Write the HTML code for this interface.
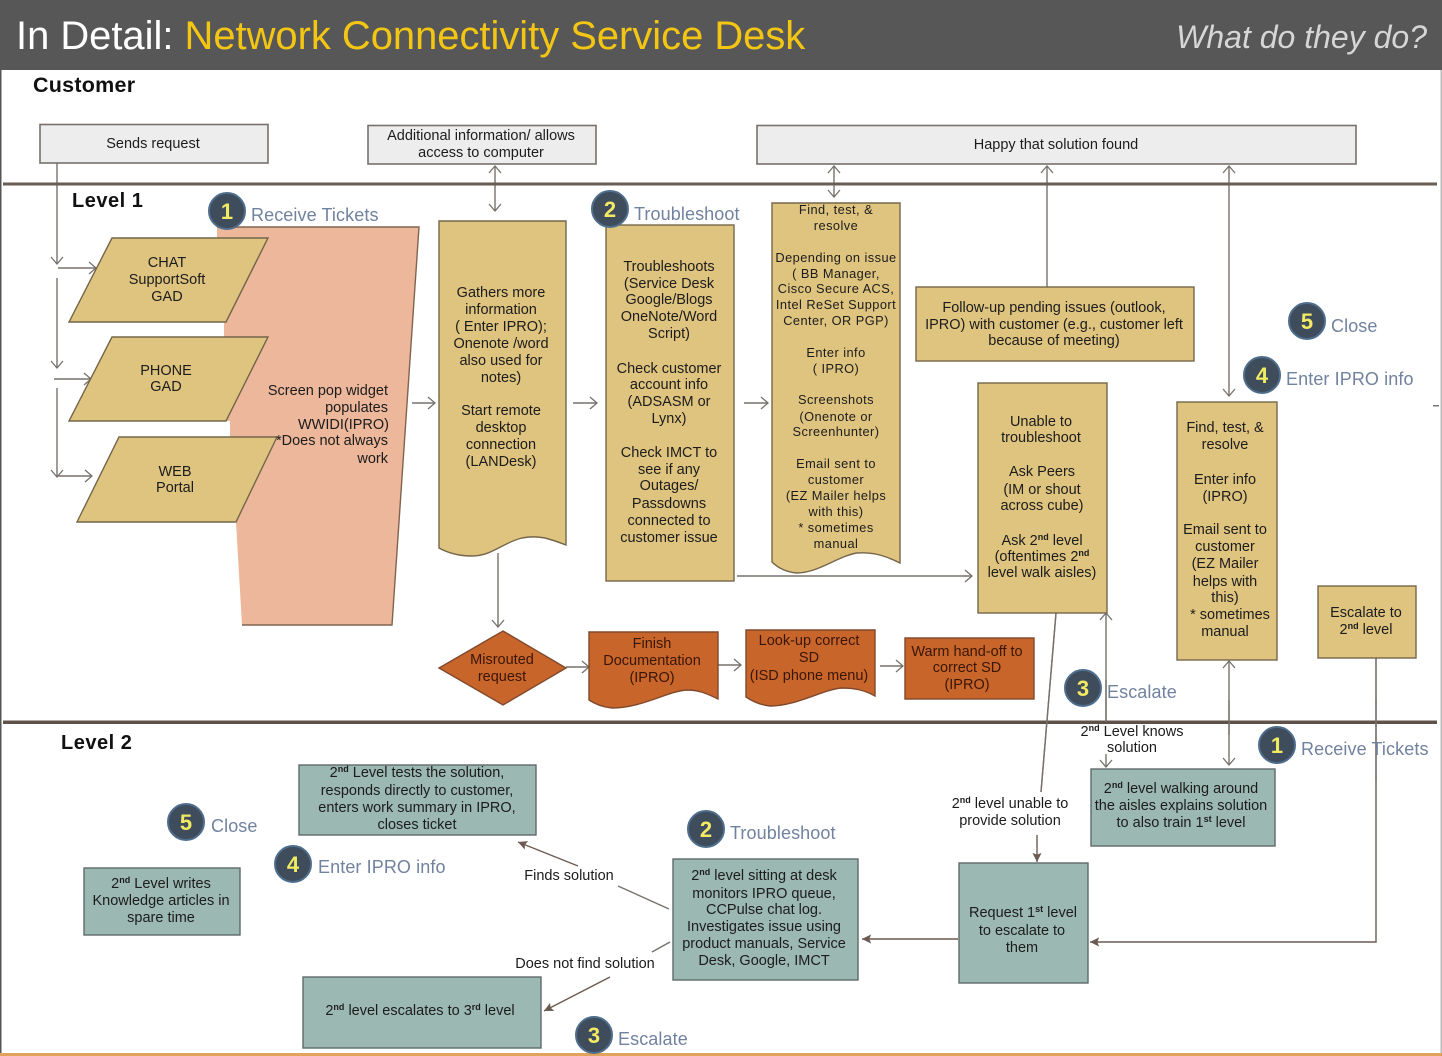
<!DOCTYPE html>
<html><head><meta charset="utf-8"><style>
html,body{margin:0;padding:0;background:#fff}
svg{display:block;filter:blur(.35px)}
text{font-family:"Liberation Sans",Arial,sans-serif}
.t text,.t{font-size:14.5px;text-anchor:middle;fill:#1c1c1c}
.s text,.s{font-size:12.8px;text-anchor:middle;fill:#1c1c1c;letter-spacing:.45px}
.o text{font-size:14.5px;text-anchor:middle;fill:#3a1606}
.lab{font-size:18px;fill:#71829f;letter-spacing:.1px}
.num{font-size:22px;font-weight:bold;fill:#f2ea62;text-anchor:middle}
.lvl{font-size:20px;font-weight:bold;fill:#111;letter-spacing:.5px}
.c{fill:#3e4c5c;stroke:#4f6d8c;stroke-width:2}
.g{fill:#eeeded;stroke:#77716c;stroke-width:1.6}
.y{fill:#dfc47f;stroke:#74664a;stroke-width:1.4}
.r{fill:#c8652b;stroke:#80492c;stroke-width:1.4}
.b{fill:#9cb8b2;stroke:#5f6a69;stroke-width:1.4}
.l{fill:none;stroke:#77716c;stroke-width:1.4}
.sup{font-size:9px;font-weight:bold}
</style></head><body>
<svg width="1442" height="1056" viewBox="0 0 1442 1056" xmlns="http://www.w3.org/2000/svg">
<defs>
<marker id="a" viewBox="0 0 14 14" refX="13" refY="7" markerWidth="14" markerHeight="14" orient="auto-start-reverse" markerUnits="userSpaceOnUse"><path d="M6 1 L13 7 L6 13" fill="none" stroke="#77716c" stroke-width="1.3"/></marker>
<marker id="f" viewBox="0 0 12 12" refX="11" refY="6" markerWidth="11" markerHeight="11" orient="auto" markerUnits="userSpaceOnUse"><path d="M1 1 L11 6 L1 11 L3 6Z" fill="#6b5a52"/></marker>
</defs>
<rect width="1442" height="1056" fill="#fff"/>
<rect x="0" y="70" width="1.5" height="986" fill="#555"/>
<rect x="1440.500" y="70" width="1.500" height="986" fill="#bbb"/>
<rect x="0" y="0" width="1442" height="70" fill="#575757"/>
<text x="16" y="49" font-size="39.900" fill="#fff">In Detail: <tspan fill="#f4c614">Network Connectivity Service Desk</tspan></text>
<text x="1427" y="48" font-size="32" font-style="italic" fill="#d6d6d6" text-anchor="end">What do they do?</text>
<rect x="0" y="1053" width="1442" height="3" fill="#e2a35c"/>
<text x="33" y="92" font-size="21.5" font-weight="bold" fill="#111" letter-spacing=".25">Customer</text>
<text x="72" y="207" class="lvl">Level 1</text>
<text x="61" y="749" class="lvl">Level 2</text>

<!-- connectors (behind) -->
<g class="l">
<path d="M57 163V264" marker-end="url(#a)"/>
<path d="M58 268H96" marker-end="url(#a)"/>
<path d="M57 278V368" marker-end="url(#a)"/>
<path d="M54 379H91" marker-end="url(#a)"/>
<path d="M57 388V477" marker-end="url(#a)"/>
<path d="M57 476H92" marker-end="url(#a)"/>
<path d="M495 211V166" marker-start="url(#a)" marker-end="url(#a)"/>
<path d="M834 197V166" marker-start="url(#a)" marker-end="url(#a)"/>
<path d="M1047 287V166" marker-end="url(#a)"/>
<path d="M1229 396V166" marker-start="url(#a)" marker-end="url(#a)"/>
<path d="M412 403H435" marker-end="url(#a)"/>
<path d="M573 403H597" marker-end="url(#a)"/>
<path d="M744 403H768" marker-end="url(#a)"/>
<path d="M498 553V627" marker-end="url(#a)"/>
<path d="M566 667H589" marker-end="url(#a)"/>
<path d="M718 665H741" marker-end="url(#a)"/>
<path d="M880 666H903" marker-end="url(#a)"/>
<path d="M737 576H972" marker-end="url(#a)"/>
<path d="M1056 613L1041 792"/>
<path d="M1037 835V862" stroke="#6b5a52" marker-end="url(#f)"/>
<path d="M1106 722V613" marker-end="url(#a)"/>
<path d="M1106 754V767" marker-end="url(#a)"/>
<path d="M1229 765V661" marker-start="url(#a)" marker-end="url(#a)"/>
<path d="M1376 658V942H1090" marker-end="url(#f)" stroke="#6b5a52"/>
<path d="M958 939H862" marker-end="url(#f)" stroke="#6b5a52"/>
<path d="M669 909L618 886"/>
<path d="M578 866L518 842" marker-end="url(#f)" stroke="#6b5a52"/>
<path d="M670 942L652 952"/>
<path d="M610 977L544 1011" marker-end="url(#f)" stroke="#6b5a52"/>
</g>
<rect x="3" y="182.500" width="1434" height="3" fill="#6a5c54"/>
<rect x="3" y="720.500" width="1434" height="3.500" fill="#5f524b"/>
<rect x="1433" y="405" width="6" height="1.500" fill="#777"/>
<g class="l"><path d="M1056 613L1041 792"/><path d="M1106 722V680"/><path d="M1229 735V700"/><path d="M1376 700V780"/></g>

<!-- customer boxes -->
<rect class="g" x="40" y="124.500" width="228" height="38.500"/>
<rect class="g" x="368" y="125.500" width="228" height="38.500"/>
<rect class="g" x="757" y="125.500" width="599" height="38.500"/>
<g class="t">
<text x="153" y="148">Sends request</text>
<text x="481" y="140">Additional information/ allows</text>
<text x="481" y="157">access to computer</text>
<text x="1056" y="149">Happy that solution found</text>
</g>

<!-- pink -->
<path d="M217 227H419L392 625H242L236 522L230 437V421H224V238H217Z" fill="#ecb79a"/>
<path d="M217 227H419L392 625H242" fill="none" stroke="#80644f" stroke-width="1.400"/>
<!-- parallelograms -->
<path class="y" d="M112 238H268L226 322H69Z"/>
<path class="y" d="M112 337H268L226 421H69Z"/>
<path class="y" d="M119 437H277L236 522H77Z"/>
<g class="t">
<text x="167" y="267">CHAT</text><text x="167" y="284">SupportSoft</text><text x="167" y="301">GAD</text>
<text x="166" y="375">PHONE</text><text x="166" y="391">GAD</text>
<text x="175" y="476">WEB</text><text x="175" y="492">Portal</text>
</g>
<g class="t" style="text-anchor:end">
<text x="388" y="395" style="text-anchor:end">Screen pop widget</text>
<text x="388" y="412" style="text-anchor:end">populates</text>
<text x="389" y="429" style="text-anchor:end">WWIDI(IPRO)</text>
<text x="388" y="445" style="text-anchor:end">*Does not always</text>
<text x="388" y="463" style="text-anchor:end">work</text>
</g>

<!-- yellow column shapes -->
<path class="y" d="M439 221H566V545C548 538 538 535 522 538C504 542 492 556 472 556C458 556 448 553 439 548Z"/>
<rect class="y" x="606" y="225" width="128" height="356"/>
<path class="y" d="M772 203H900V563C884 555 872 552 857 553C838 556 818 573 797 573C786 572 778 568 772 562Z"/>
<rect class="y" x="916" y="287" width="278" height="74"/>
<rect class="y" x="978" y="383" width="129" height="230"/>
<rect class="y" x="1177" y="402" width="100" height="258"/>
<rect class="y" x="1318" y="586" width="98" height="72"/>
<g class="t">
<text x="501" y="297">Gathers more</text><text x="501" y="314">information</text><text x="501" y="331">( Enter IPRO);</text><text x="501" y="348">Onenote /word</text><text x="501" y="365">also used for</text><text x="501" y="382">notes)</text>
<text x="501" y="415">Start remote</text><text x="501" y="432">desktop</text><text x="501" y="449">connection</text><text x="501" y="466">(LANDesk)</text>
<text x="669" y="271">Troubleshoots</text><text x="669" y="288">(Service Desk</text><text x="669" y="304">Google/Blogs</text><text x="669" y="321">OneNote/Word</text><text x="669" y="338">Script)</text>
<text x="669" y="373">Check customer</text><text x="669" y="389">account info</text><text x="669" y="406">(ADSASM or</text><text x="669" y="423">Lynx)</text>
<text x="669" y="457">Check IMCT to</text><text x="669" y="474">see if any</text><text x="669" y="490">Outages/</text><text x="669" y="508">Passdowns</text><text x="669" y="525">connected to</text><text x="669" y="542">customer issue</text>
<text x="1054" y="312">Follow-up  pending issues (outlook,</text><text x="1054" y="329">IPRO) with customer (e.g., customer left</text><text x="1054" y="345">because of meeting)</text>
<text x="1041" y="426">Unable to</text><text x="1041" y="442">troubleshoot</text>
<text x="1042" y="476">Ask Peers</text><text x="1042" y="494">(IM or shout</text><text x="1042" y="510">across cube)</text>
<text x="1042" y="545">Ask 2<tspan class="sup" dy="-5">nd</tspan><tspan dy="5"> level</tspan></text><text x="1042" y="561">(oftentimes 2<tspan class="sup" dy="-5">nd</tspan></text><text x="1042" y="577">level walk aisles)</text>
<text x="1225" y="432">Find, test, &amp;</text><text x="1225" y="449">resolve</text>
<text x="1225" y="484">Enter info</text><text x="1225" y="501">(IPRO)</text>
<text x="1225" y="534">Email sent to</text><text x="1225" y="551">customer</text><text x="1225" y="568">(EZ Mailer</text><text x="1225" y="586">helps with</text><text x="1225" y="602">this)</text><text x="1230" y="619">* sometimes</text><text x="1225" y="636">manual</text>
<text x="1366" y="617">Escalate to</text><text x="1366" y="634">2<tspan class="sup" dy="-5">nd</tspan><tspan dy="5"> level</tspan></text>
</g>
<g class="s">
<text x="836" y="214">Find, test, &amp;</text><text x="836" y="230">resolve</text>
<text x="836" y="262">Depending on issue</text><text x="836" y="278">( BB Manager,</text><text x="836" y="293">Cisco Secure ACS,</text><text x="836" y="309">Intel ReSet Support</text><text x="836" y="325">Center, OR PGP)</text>
<text x="836" y="357">Enter info</text><text x="836" y="373">( IPRO)</text>
<text x="836" y="404">Screenshots</text><text x="836" y="421">(Onenote or</text><text x="836" y="436">Screenhunter)</text>
<text x="836" y="468">Email sent to</text><text x="836" y="484">customer</text><text x="836" y="500">(EZ Mailer helps</text><text x="836" y="516">with this)</text><text x="836" y="532">* sometimes</text><text x="836" y="548">manual</text>
</g>

<!-- orange -->
<path class="r" d="M503 631L566 668L503 705L439 668Z"/>
<path class="r" d="M589 632H718V699C706 693 698 690 687 690C668 691 642 708 612 708C602 707 595 704 589 700Z"/>
<path class="r" d="M746 630H875V696C864 690 855 688 841 688C822 690 796 706 770 706C760 705 752 701 746 697Z"/>
<rect class="r" x="905" y="638" width="129" height="61"/>
<g class="o">
<text x="502" y="664">Misrouted</text><text x="502" y="681">request</text>
<text x="652" y="648">Finish</text><text x="652" y="665">Documentation</text><text x="652" y="682">(IPRO)</text>
<text x="809" y="645">Look-up correct</text><text x="809" y="662">SD</text><text x="809" y="680">(ISD phone menu)</text>
<text x="967" y="656">Warm hand-off to</text><text x="967" y="672">correct SD</text><text x="967" y="689">(IPRO)</text>
</g>

<!-- teal -->
<rect class="b" x="1091" y="769" width="184" height="77"/>
<rect class="b" x="959" y="863" width="129" height="120"/>
<rect class="b" x="673" y="859" width="185" height="121"/>
<rect class="b" x="299" y="765" width="237" height="70"/>
<rect class="b" x="84" y="868" width="156" height="67"/>
<rect class="b" x="303" y="977" width="238" height="71"/>
<g class="t">
<text x="1181" y="793">2<tspan class="sup" dy="-5">nd</tspan><tspan dy="5"> level walking around</tspan></text><text x="1181" y="810">the aisles explains solution</text><text x="1181" y="827">to also train 1<tspan class="sup" dy="-5">st</tspan><tspan dy="5"> level</tspan></text>
<text x="1023" y="917">Request 1<tspan class="sup" dy="-5">st</tspan><tspan dy="5"> level</tspan></text><text x="1022" y="935">to escalate to</text><text x="1022" y="952">them</text>
<text x="764" y="880">2<tspan class="sup" dy="-5">nd</tspan><tspan dy="5"> level sitting at desk</tspan></text><text x="764" y="898">monitors IPRO queue,</text><text x="764" y="914">CCPulse chat log.</text><text x="764" y="931">Investigates issue using</text><text x="764" y="948">product manuals, Service</text><text x="764" y="965">Desk, Google, IMCT</text>
<text x="417" y="777">2<tspan class="sup" dy="-5">nd</tspan><tspan dy="5"> Level tests the solution,</tspan></text><text x="417" y="795">responds directly to customer,</text><text x="417" y="812">enters work summary in IPRO,</text><text x="417" y="829">closes ticket</text>
<text x="161" y="888">2<tspan class="sup" dy="-5">nd</tspan><tspan dy="5"> Level writes</tspan></text><text x="161" y="905">Knowledge articles in</text><text x="161" y="922">spare time</text>
<text x="420" y="1015">2<tspan class="sup" dy="-5">nd</tspan><tspan dy="5"> level escalates to 3</tspan><tspan class="sup" dy="-5">rd</tspan><tspan dy="5"> level</tspan></text>
<text x="1132" y="736">2<tspan class="sup" dy="-5">nd</tspan><tspan dy="5"> Level knows</tspan></text><text x="1132" y="752">solution</text>
<text x="1010" y="808">2<tspan class="sup" dy="-5">nd</tspan><tspan dy="5"> level unable to</tspan></text><text x="1010" y="825">provide solution</text>
<text x="569" y="880">Finds solution</text>
<text x="585" y="968">Does not find solution</text>
</g>

<!-- number badges -->
<g>
<circle class="c" cx="227" cy="211" r="18"/><text class="num" x="227" y="219">1</text><text class="lab" x="251" y="221">Receive Tickets</text>
<circle class="c" cx="610" cy="209" r="18"/><text class="num" x="610" y="217">2</text><text class="lab" x="634" y="220">Troubleshoot</text>
<circle class="c" cx="1307" cy="321" r="18"/><text class="num" x="1307" y="329">5</text><text class="lab" x="1331" y="332">Close</text>
<circle class="c" cx="1262" cy="375" r="18"/><text class="num" x="1262" y="383">4</text><text class="lab" x="1286" y="385">Enter IPRO info</text>
<circle class="c" cx="1083" cy="688" r="18"/><text class="num" x="1083" y="696">3</text><text class="lab" x="1107" y="698">Escalate</text>
<circle class="c" cx="1277" cy="745" r="18"/><text class="num" x="1277" y="753">1</text><text class="lab" x="1301" y="755">Receive Tickets</text>
<circle class="c" cx="186" cy="822" r="18"/><text class="num" x="186" y="830">5</text><text class="lab" x="211" y="832">Close</text>
<circle class="c" cx="293" cy="864" r="18"/><text class="num" x="293" y="872">4</text><text class="lab" x="318" y="873">Enter IPRO info</text>
<circle class="c" cx="706" cy="829" r="18"/><text class="num" x="706" y="837">2</text><text class="lab" x="730" y="839">Troubleshoot</text>
<circle class="c" cx="594" cy="1035" r="18"/><text class="num" x="594" y="1043">3</text><text class="lab" x="618" y="1045">Escalate</text>
</g>
</svg>
</body></html>
